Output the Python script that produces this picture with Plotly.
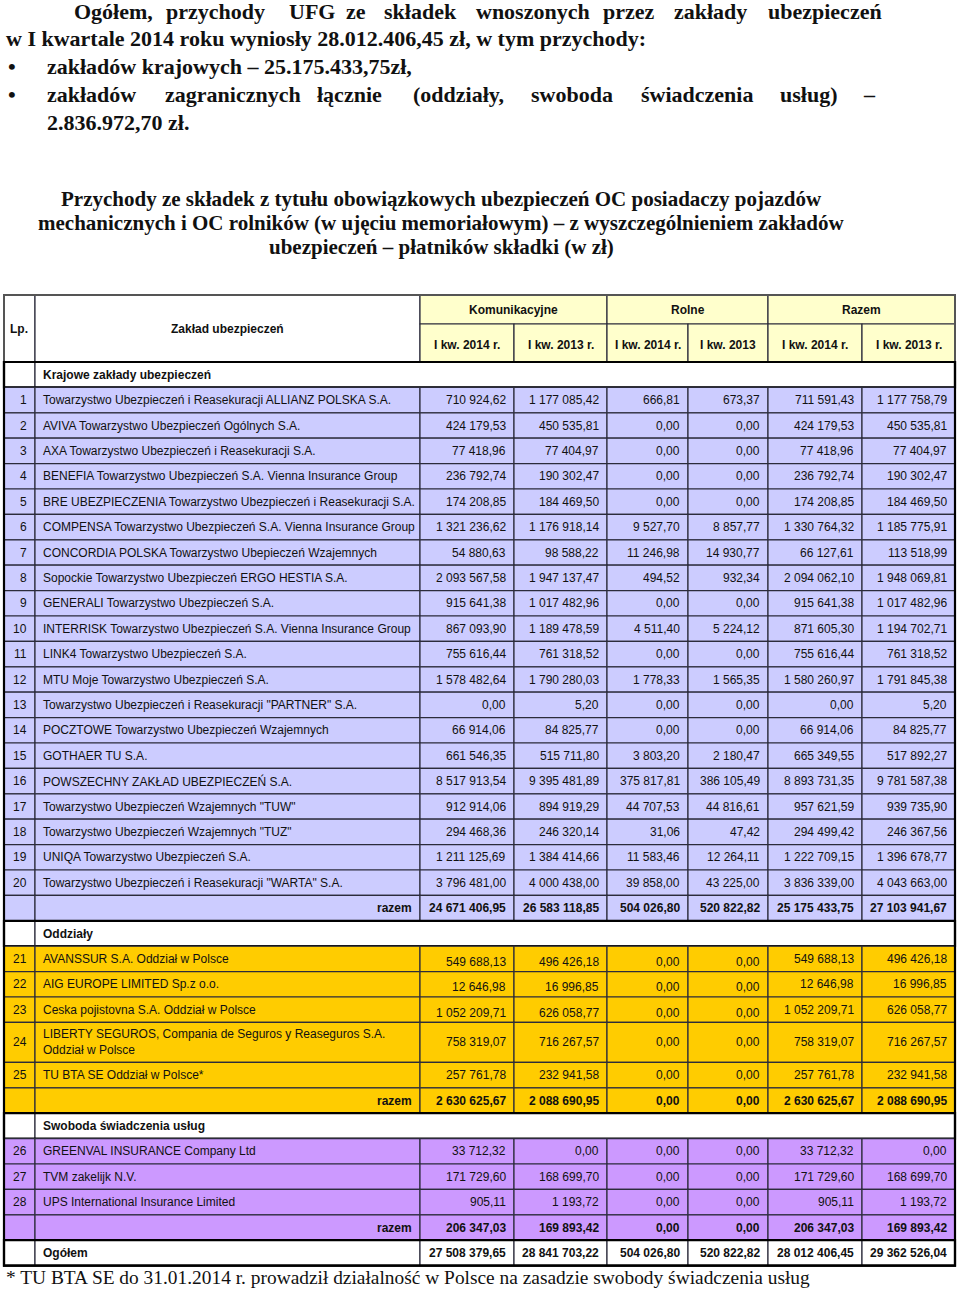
import plotly.graph_objects as go

# ---- data -------------------------------------------------------------
lp = list(range(1, 29))
names = [
    "Towarzystwo Ubezpieczeń i Reasekuracji ALLIANZ POLSKA S.A.",
    "AVIVA Towarzystwo Ubezpieczeń Ogólnych S.A.",
    "AXA Towarzystwo Ubezpieczeń i Reasekuracji S.A.",
    "BENEFIA Towarzystwo Ubezpieczeń S.A. Vienna Insurance Group",
    "BRE UBEZPIECZENIA Towarzystwo Ubezpieczeń i Reasekuracji S.A.",
    "COMPENSA Towarzystwo Ubezpieczeń S.A. Vienna Insurance Group",
    "CONCORDIA POLSKA Towarzystwo Ubepieczeń Wzajemnych",
    "Sopockie Towarzystwo Ubezpieczeń ERGO HESTIA S.A.",
    "GENERALI Towarzystwo Ubezpieczeń S.A.",
    "INTERRISK Towarzystwo Ubezpieczeń S.A. Vienna Insurance Group",
    "LINK4 Towarzystwo Ubezpieczeń S.A.",
    "MTU Moje Towarzystwo Ubezpieczeń S.A.",
    "Towarzystwo Ubezpieczeń i Reasekuracji \"PARTNER\" S.A.",
    "POCZTOWE Towarzystwo Ubezpieczeń Wzajemnych",
    "GOTHAER TU S.A.",
    "POWSZECHNY ZAKŁAD UBEZPIECZEŃ S.A.",
    "Towarzystwo Ubezpieczeń Wzajemnych \"TUW\"",
    "Towarzystwo Ubezpieczeń Wzajemnych \"TUZ\"",
    "UNIQA Towarzystwo Ubezpieczeń S.A.",
    "Towarzystwo Ubezpieczeń i Reasekuracji \"WARTA\" S.A.",
    "AVANSSUR S.A. Oddział w Polsce",
    "AIG EUROPE LIMITED Sp.z o.o.",
    "Ceska pojistovna S.A. Oddział w Polsce",
    "LIBERTY SEGUROS, Compania de Seguros y Reaseguros S.A.<br>Oddział w Polsce",
    "TU BTA SE Oddział w Polsce*",
    "GREENVAL INSURANCE Company Ltd",
    "TVM zakelijk N.V.",
    "UPS International Insurance Limited",
]
kom_2014 = [710924.62, 424179.53, 77418.96, 236792.74, 174208.85, 1321236.62, 54880.63,
            2093567.58, 915641.38, 867093.90, 755616.44, 1578482.64, 0.00, 66914.06,
            661546.35, 8517913.54, 912914.06, 294468.36, 1211125.69, 3796481.00,
            549688.13, 12646.98, 1052209.71, 758319.07, 257761.78,
            33712.32, 171729.60, 905.11]
kom_2013 = [1177085.42, 450535.81, 77404.97, 190302.47, 184469.50, 1176918.14, 98588.22,
            1947137.47, 1017482.96, 1189478.59, 761318.52, 1790280.03, 5.20, 84825.77,
            515711.80, 9395481.89, 894919.29, 246320.14, 1384414.66, 4000438.00,
            496426.18, 16996.85, 626058.77, 716267.57, 232941.58,
            0.00, 168699.70, 1193.72]
rol_2014 = [666.81, 0.00, 0.00, 0.00, 0.00, 9527.70, 11246.98,
            494.52, 0.00, 4511.40, 0.00, 1778.33, 0.00, 0.00,
            3803.20, 375817.81, 44707.53, 31.06, 11583.46, 39858.00,
            0.00, 0.00, 0.00, 0.00, 0.00,
            0.00, 0.00, 0.00]
rol_2013 = [673.37, 0.00, 0.00, 0.00, 0.00, 8857.77, 14930.77,
            932.34, 0.00, 5224.12, 0.00, 1565.35, 0.00, 0.00,
            2180.47, 386105.49, 44816.61, 47.42, 12264.11, 43225.00,
            0.00, 0.00, 0.00, 0.00, 0.00,
            0.00, 0.00, 0.00]
raz_2014 = [711591.43, 424179.53, 77418.96, 236792.74, 174208.85, 1330764.32, 66127.61,
            2094062.10, 915641.38, 871605.30, 755616.44, 1580260.97, 0.00, 66914.06,
            665349.55, 8893731.35, 957621.59, 294499.42, 1222709.15, 3836339.00,
            549688.13, 12646.98, 1052209.71, 758319.07, 257761.78,
            33712.32, 171729.60, 905.11]
raz_2013 = [1177758.79, 450535.81, 77404.97, 190302.47, 184469.50, 1185775.91, 113518.99,
            1948069.81, 1017482.96, 1194702.71, 761318.52, 1791845.38, 5.20, 84825.77,
            517892.27, 9781587.38, 939735.90, 246367.56, 1396678.77, 4043663.00,
            496426.18, 16996.85, 626058.77, 716267.57, 232941.58,
            0.00, 168699.70, 1193.72]

razem_krajowe = [24671406.95, 26583118.85, 504026.80, 520822.82, 25175433.75, 27103941.67]
razem_oddzialy = [2630625.67, 2088690.95, 0.00, 0.00, 2630625.67, 2088690.95]
razem_swoboda = [206347.03, 169893.42, 0.00, 0.00, 206347.03, 169893.42]
ogolem = [27508379.65, 28841703.22, 504026.80, 520822.82, 28012406.45, 29362526.04]

group_headers = ["Komunikacyjne", "Rolne", "Razem"]
sub_headers = ["I kw. 2014 r.", "I kw. 2013 r.", "I kw. 2014 r.", "I kw. 2013", "I kw. 2014 r.", "I kw. 2013 r."]

# (label, first index, end index, fill colour, totals)
sections = [
    ("Krajowe zakłady ubezpieczeń", 0, 20, "#CCCCFF", razem_krajowe),
    ("Oddziały", 20, 25, "#FFCC00", razem_oddzialy),
    ("Swoboda świadczenia usług", 25, 28, "#CC99FF", razem_swoboda),
]

# ---- layout constants ---------------------------------------------------
COLS = [4, 35, 420, 514, 607, 688, 768, 862, 955]
HEAD_TOP, HEAD_MID, HEAD_BOT = 295, 324, 362
ROW_H, ROW_H2 = 25.4, 40
PAD = 6
GRID = "#2b2b3b"
SANS = "Liberation Sans, Arial, sans-serif"
SERIF = "Liberation Serif, Times New Roman, serif"
# in the source sheet a few branch rows have the first four amounts sitting lower
LOW_AMOUNT_ROWS = {20, 21, 22}


def fmt(v):
    return f"{v:,.2f}".replace(",", " ").replace(".", ",")


fig = go.Figure()
fig.add_trace(go.Scatter(x=[0, 960], y=[0, 1289], mode="markers",
                         marker=dict(opacity=0), hoverinfo="skip", showlegend=False))


def rect(x0, x1, y0, y1, fill=None, lw=1.2, lc=GRID):
    fig.add_shape(type="rect", xref="x", yref="y", x0=x0, x1=x1, y0=y0, y1=y1,
                  fillcolor=fill if fill else "rgba(0,0,0,0)",
                  line=dict(color=lc, width=lw), layer="above")


def text(x, y, s, anchor="left", bold=False, size=12, family=SANS):
    if bold:
        s = f"<b>{s}</b>"
    fig.add_annotation(x=x, y=y, xref="x", yref="y", text=s, showarrow=False,
                       xanchor=anchor, yanchor="middle", align="left",
                       font=dict(family=family, size=size, color="#111111"))


# ---- intro paragraph (justified lines placed word by word) ---------------
para_font = 22
line1 = ["Ogółem,", "przychody", "UFG", "ze", "składek", "wnoszonych", "przez", "zakłady", "ubezpieczeń"]
line1_x = [72, 164, 287, 344, 382, 474, 601, 672, 766]
for w, x in zip(line1, line1_x):
    text(x, 11, w, bold=True, size=para_font, family=SERIF)
text(4, 38, "w I kwartale 2014 roku wyniosły 28.012.406,45 zł, w tym przychody:", bold=True, size=para_font, family=SERIF)
text(6, 66, "•", bold=True, size=para_font, family=SERIF)
text(45, 66, "zakładów krajowych – 25.175.433,75zł,", bold=True, size=para_font, family=SERIF)
text(6, 94, "•", bold=True, size=para_font, family=SERIF)
line4 = ["zakładów", "zagranicznych", "łącznie", "(oddziały,", "swoboda", "świadczenia", "usług)"]
line4_x = [45, 163, 315, 411, 529, 639, 778]
for w, x in zip(line4, line4_x):
    text(x, 94, w, bold=True, size=para_font, family=SERIF)
text(878, 94, "–", anchor="right", bold=True, size=para_font, family=SERIF)
text(45, 122, "2.836.972,70 zł.", bold=True, size=para_font, family=SERIF)

# ---- table title --------------------------------------------------------
title_lines = [
    "Przychody ze składek z tytułu obowiązkowych ubezpieczeń OC posiadaczy pojazdów",
    "mechanicznych i OC rolników (w ujęciu memoriałowym) – z wyszczególnieniem zakładów",
    "ubezpieczeń – płatników składki (w zł)",
]
for i, t in enumerate(title_lines):
    text(441, 199 + i * 24, t, anchor="center", bold=True, size=21, family=SERIF)

# ---- header -------------------------------------------------------------
rect(COLS[0], COLS[1], HEAD_TOP, HEAD_BOT, "white")
rect(COLS[1], COLS[2], HEAD_TOP, HEAD_BOT, "white")
text(19, (HEAD_TOP + HEAD_BOT) / 2, "Lp.", anchor="center", bold=True)
text((COLS[1] + COLS[2]) / 2, (HEAD_TOP + HEAD_BOT) / 2, "Zakład ubezpieczeń", anchor="center", bold=True)
for g, label in enumerate(group_headers):
    x0, x1 = COLS[2 + 2 * g], COLS[4 + 2 * g]
    rect(x0, x1, HEAD_TOP, HEAD_MID, "#FFFFCC")
    text((x0 + x1) / 2, (HEAD_TOP + HEAD_MID) / 2, label, anchor="center", bold=True)
for c, label in enumerate(sub_headers):
    x0, x1 = COLS[2 + c], COLS[3 + c]
    rect(x0, x1, HEAD_MID, HEAD_BOT, "#FFFFCC")
    text((x0 + x1) / 2, (HEAD_MID + HEAD_BOT) / 2 + 2, label, anchor="center", bold=True)
rect(COLS[0], COLS[-1], HEAD_TOP, HEAD_BOT, None, lw=2, lc="#555555")

# ---- body ---------------------------------------------------------------
y = HEAD_BOT


def value_row(y0, y1, label, values, fill, bold, lp_text="", right_label=False, low=False):
    yc = (y0 + y1) / 2
    rect(COLS[0], COLS[1], y0, y1, fill)
    rect(COLS[1], COLS[2], y0, y1, fill)
    if lp_text:
        text(COLS[1] - PAD, yc, lp_text, anchor="right")
    if right_label:
        text(COLS[2] - PAD, yc, label, anchor="right", bold=bold)
    else:
        text(COLS[1] + PAD, yc, label, bold=bold)
    for c, v in enumerate(values):
        rect(COLS[2 + c], COLS[3 + c], y0, y1, fill)
        dy = 3 if (low and c < 4) else 0
        text(COLS[3 + c] - PAD, yc + dy, fmt(v), anchor="right", bold=bold)


for label, i0, i1, fill, totals in sections:
    # section heading row
    rect(COLS[0], COLS[1], y, y + ROW_H, "white")
    rect(COLS[1], COLS[-1], y, y + ROW_H, "white")
    text(COLS[1] + PAD, y + ROW_H / 2, label, bold=True)
    rect(COLS[0], COLS[-1], y, y + ROW_H, None, lw=2.2, lc="black")
    y += ROW_H
    for i in range(i0, i1):
        h = ROW_H2 if "<br>" in names[i] else ROW_H
        vals = [kom_2014[i], kom_2013[i], rol_2014[i], rol_2013[i], raz_2014[i], raz_2013[i]]
        value_row(y, y + h, names[i], vals, fill, False, lp_text=str(lp[i]),
                  low=i in LOW_AMOUNT_ROWS)
        y += h
    value_row(y, y + ROW_H, "razem", totals, fill, True, right_label=True)
    y += ROW_H

value_row(y, y + ROW_H, "Ogółem", ogolem, "white", True)
rect(COLS[0], COLS[-1], y, y + ROW_H, None, lw=2.2, lc="black")
y += ROW_H
rect(COLS[0], COLS[-1], HEAD_BOT, y, None, lw=2.2, lc="black")

# ---- footnote -----------------------------------------------------------
text(4, y + 12, "* TU BTA SE do 31.01.2014 r. prowadził działalność w Polsce na zasadzie swobody świadczenia usług",
     size=19.4, family=SERIF)

fig.update_layout(
    width=960, height=1289,
    margin=dict(l=0, r=0, t=0, b=0),
    paper_bgcolor="white", plot_bgcolor="white",
    xaxis=dict(range=[0, 960], visible=False, fixedrange=True),
    yaxis=dict(range=[1289, 0], visible=False, fixedrange=True),
    showlegend=False,
)
# drop the browser's default page margin so the figure sits at the window corner
fig.write_html("out.html", config={"displayModeBar": False},
               post_script="document.body.style.margin='0';")
